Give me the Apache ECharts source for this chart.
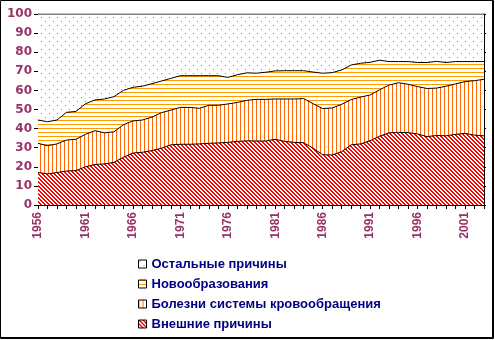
<!DOCTYPE html>
<html>
<head>
<meta charset="utf-8">
<script src="https://cdn.jsdelivr.net/npm/echarts@6/dist/echarts.min.js"></script>
<style>
  html, body { margin: 0; padding: 0; background: #fff; }
  #chart { width: 495px; height: 340px; }
</style>
</head>
<body>
<div id="chart"></div>
<script>
// Years on the horizontal axis
const years = ['1956','1957','1958','1959','1960','1961','1962','1963','1964','1965',
  '1966','1967','1968','1969','1970','1971','1972','1973','1974','1975',
  '1976','1977','1978','1979','1980','1981','1982','1983','1984','1985',
  '1986','1987','1988','1989','1990','1991','1992','1993','1994','1995',
  '1996','1997','1998','1999','2000','2001','2002','2003'];

// Shares of deaths by cause, %, stacked from the bottom
const externalCauses = [17.0,16.3,17.0,17.8,18.0,20.0,21.2,21.5,22.3,25.0,
  27.2,27.6,28.5,29.7,31.5,31.8,31.8,32.0,32.3,32.5,
  32.8,33.3,33.6,33.5,33.5,34.4,33.3,32.8,32.6,29.7,
  26.3,26.2,27.9,31.5,32.0,33.7,36.0,37.8,38.0,37.9,
  37.2,35.8,36.4,36.2,37.0,37.5,36.6,36.2];
const circulatory = [15.3,14.7,15.0,16.2,16.4,17.0,17.7,16.3,16.0,17.0,
  16.8,16.9,17.5,18.6,18.2,19.3,19.3,18.6,19.9,19.7,
  20.1,20.4,21.2,21.8,21.8,21.1,22.2,22.7,23.1,23.3,
  24.2,24.6,24.8,23.7,24.5,23.9,24.3,25.0,26.0,25.3,
  24.8,25.2,24.8,26.0,26.4,27.1,28.5,29.6];
const neoplasms = [12.2,12.6,12.5,14.5,14.6,16.0,16.1,17.7,18.4,18.0,
  17.6,17.7,17.5,16.6,16.6,16.6,16.6,17.1,15.5,15.5,
  13.9,14.5,14.4,13.7,14.2,14.7,14.8,14.8,14.6,16.6,
  18.5,18.5,18.0,18.1,17.7,17.1,15.5,12.3,11.1,11.9,
  12.6,13.6,14.0,12.4,11.7,10.5,10.0,9.3];
const otherCauses = [55.5,56.4,55.5,51.5,51.0,47.0,45.0,44.5,43.3,40.0,
  38.4,37.8,36.5,35.1,33.7,32.3,32.3,32.3,32.3,32.3,
  33.2,31.8,30.8,31.0,30.5,29.8,29.7,29.7,29.7,30.4,
  31.0,30.7,29.3,26.7,25.8,25.3,24.2,24.9,24.9,24.9,
  25.4,25.4,24.8,25.4,24.9,24.9,24.9,24.9];

const seriesNames = ['Внешние причины', 'Болезни системы кровообращения', 'Новообразования', 'Остальные причины'];
const legendOrder = ['Остальные причины', 'Новообразования', 'Болезни системы кровообращения', 'Внешние причины'];

// Small repeating fill patterns drawn on canvases
function tile(size, paint) {
  const c = document.createElement('canvas');
  c.width = size; c.height = size;
  const ctx = c.getContext('2d');
  ctx.fillStyle = '#ffffff';
  ctx.fillRect(0, 0, size, size);
  paint(ctx);
  return { image: c, repeat: 'repeat' };
}
const hatchRed = tile(4, ctx => {
  ctx.fillStyle = '#ff0000';
  for (let y = 0; y < 4; y++) for (let x = 0; x < 4; x++) {
    if ((((x - y) % 4) + 4) % 4 < 2) ctx.fillRect(x, y, 1, 1);
  }
});
const vertOrange = tile(4, ctx => { ctx.fillStyle = '#ff6600'; ctx.fillRect(0, 0, 1, 4); });
const horizOrange = tile(4, ctx => { ctx.fillStyle = '#ff9900'; ctx.fillRect(0, 0, 4, 1); });
const dotsPink = tile(8, ctx => {
  ctx.fillStyle = '#f5586a';
  ctx.fillRect(1, 1, 1, 1);
  ctx.fillRect(5, 5, 1, 1);
});

const fills = [hatchRed, vertOrange, horizOrange, dotsPink];
const values = [externalCauses, circulatory, neoplasms, otherCauses];

const axisColor = '#993366';

const chart = echarts.init(document.getElementById('chart'), null, { renderer: 'canvas' });
chart.setOption({
  animation: false,
  backgroundColor: '#ffffff',
  grid: { left: 38, right: 11, top: 14, bottom: 135 },
  xAxis: {
    type: 'category',
    data: years,
    boundaryGap: false,
    axisLine: { lineStyle: { color: '#000', width: 1 } },
    axisTick: { interval: 0, length: 4, lineStyle: { color: '#000' } },
    axisLabel: {
      interval: 4, rotate: 90, margin: 7,
      color: axisColor, fontWeight: 'bold', fontSize: 12,
      fontFamily: 'Liberation Sans, Arial, sans-serif'
    },
    splitLine: { show: false }
  },
  yAxis: [{
    type: 'value', min: 0, max: 100, interval: 10,
    axisLine: { show: true, lineStyle: { color: '#000', width: 1 } },
    axisTick: { show: true, length: 4, lineStyle: { color: '#000' } },
    axisLabel: {
      margin: 6, color: axisColor, fontWeight: 'bold', fontSize: 12,
      fontFamily: 'DejaVu Sans, sans-serif'
    },
    splitLine: { show: false }
  }, {
    type: 'value', min: 0, max: 100, interval: 10, position: 'right',
    axisLine: { show: true, lineStyle: { color: '#000', width: 1 } },
    axisTick: { show: true, length: 2, lineStyle: { color: '#000' } },
    axisLabel: { show: false },
    splitLine: { show: false }
  }],
  legend: {
    orient: 'vertical',
    left: 133, top: 252,
    itemWidth: 8, itemHeight: 8, itemGap: 6,
    icon: 'rect',
    data: legendOrder,
    itemStyle: { borderColor: '#000', borderWidth: 1 },
    textStyle: {
      color: '#000080', fontWeight: 'bold', fontSize: 13, lineHeight: 14,
      fontFamily: 'Liberation Sans, Arial, sans-serif'
    }
  },
  series: seriesNames.map((name, i) => ({
    name: name,
    type: 'line',
    stack: 'total',
    data: values[i],
    z: 10 - i,
    showSymbol: false,
    symbol: 'none',
    smooth: false,
    itemStyle: { color: fills[i] },
    lineStyle: { color: '#000', width: 1 },
    areaStyle: { color: fills[i], opacity: 1 },
    emphasis: { disabled: true }
  })),
  graphic: [{
    type: 'rect',
    shape: { x: 0.5, y: 0.5, width: 493, height: 338 },
    style: { fill: 'none', stroke: '#000', lineWidth: 1 },
    z: 100
  }, {
    type: 'polyline',
    shape: { points: [[492.5, 1], [492.5, 337.5], [1, 337.5]] },
    style: { fill: 'none', stroke: '#000', lineWidth: 1 },
    z: 100
  }]
});
</script>
</body>
</html>
